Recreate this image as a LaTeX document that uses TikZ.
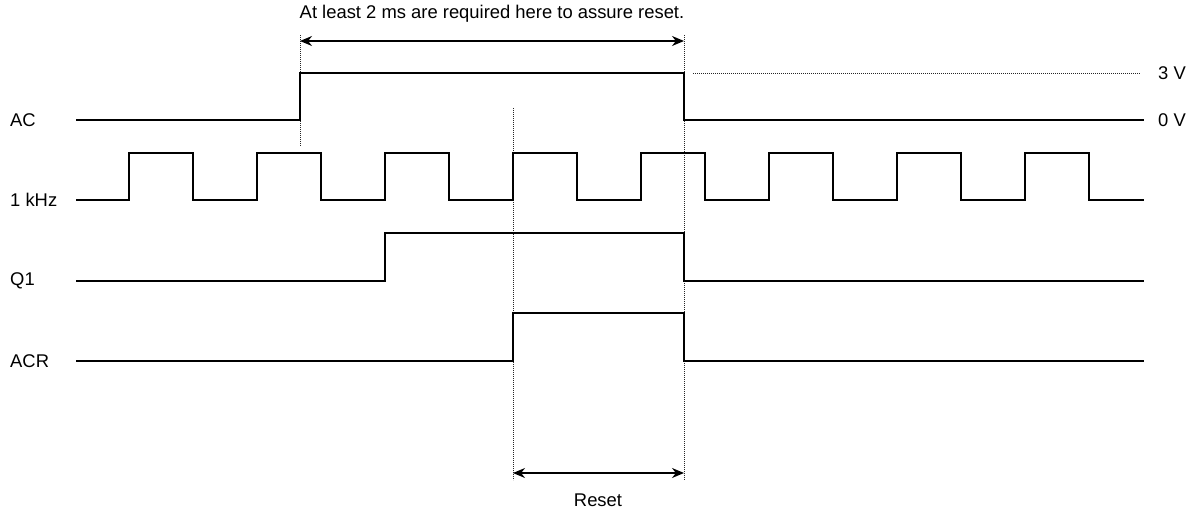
\documentclass[tikz,border=0pt]{standalone}
\usepackage{fontspec}
\setmainfont{Liberation Sans}
\usetikzlibrary{arrows.meta}
\begin{document}
\begin{tikzpicture}[x=1pt,y=-1pt,
  sig/.style={line width=2.3pt,line join=miter},
  guide/.style={line width=0.7pt,dash pattern=on 0.8pt off 1.2pt,black!85},
  dim/.style={line width=1.3pt,{Stealth[length=12pt,width=10pt]}-{Stealth[length=12pt,width=10pt]}},
  lbl/.style={font=\fontsize{18.4}{22}\selectfont,inner sep=0pt}]
\useasboundingbox (0,0) rectangle (1202,513);
% labels
\node[lbl,anchor=west] (lac) at (10,120) {AC};
\node[lbl,anchor=west] (lclk) at (10,200) {1 kHz};
\node[lbl,anchor=west] (lq1) at (10,281) {Q1};
\node[lbl,anchor=west] (lacr) at (10,361) {ACR};
\node[lbl,anchor=west] (l3v) at (1158,73) {3 V};
\node[lbl,anchor=west] (l0v) at (1158,120) {0 V};
\node[lbl] (ttop) at (492,14) {At least 2 ms are required here to assure reset.};
\node[lbl] (treset) at (598,500) {Reset};
% guides
\coordinate (g1a) at (300,35); \coordinate (g1b) at (300,146);
\coordinate (g2a) at (684,35); \coordinate (g2b) at (684,480);
\coordinate (g3a) at (513,108); \coordinate (g3b) at (513,480);
\coordinate (g4a) at (693,73); \coordinate (g4b) at (1140,73);
\draw[guide] (g1a) -- (g1b);
\draw[guide] (g2a) -- (g2b);
\draw[guide] (g3a) -- (g3b);
\draw[guide] (g4a) -- (g4b);
% dimension arrows
\coordinate (d1a) at (300,41); \coordinate (d1b) at (684,41);
\coordinate (d2a) at (513,473); \coordinate (d2b) at (684,473);
\draw[dim] (d1a) -- (d1b);
\draw[dim] (d2a) -- (d2b);
% AC
\draw[sig] (76,120) -- (300,120) -- (300,73) -- (684,73) -- (684,120) -- (1144,120);
% clock
\draw[sig] (76,200) foreach \i in {0,...,7} {
  -- (129+128*\i,200) -- (129+128*\i,153) -- (193+128*\i,153) -- (193+128*\i,200)
} -- (1144,200);
% Q1
\draw[sig] (76,281) -- (385,281) -- (385,233) -- (684,233) -- (684,281) -- (1144,281);
% ACR
\draw[sig] (76,361) -- (513,361) -- (513,313) -- (684,313) -- (684,361) -- (1144,361);
\end{tikzpicture}
\end{document}
